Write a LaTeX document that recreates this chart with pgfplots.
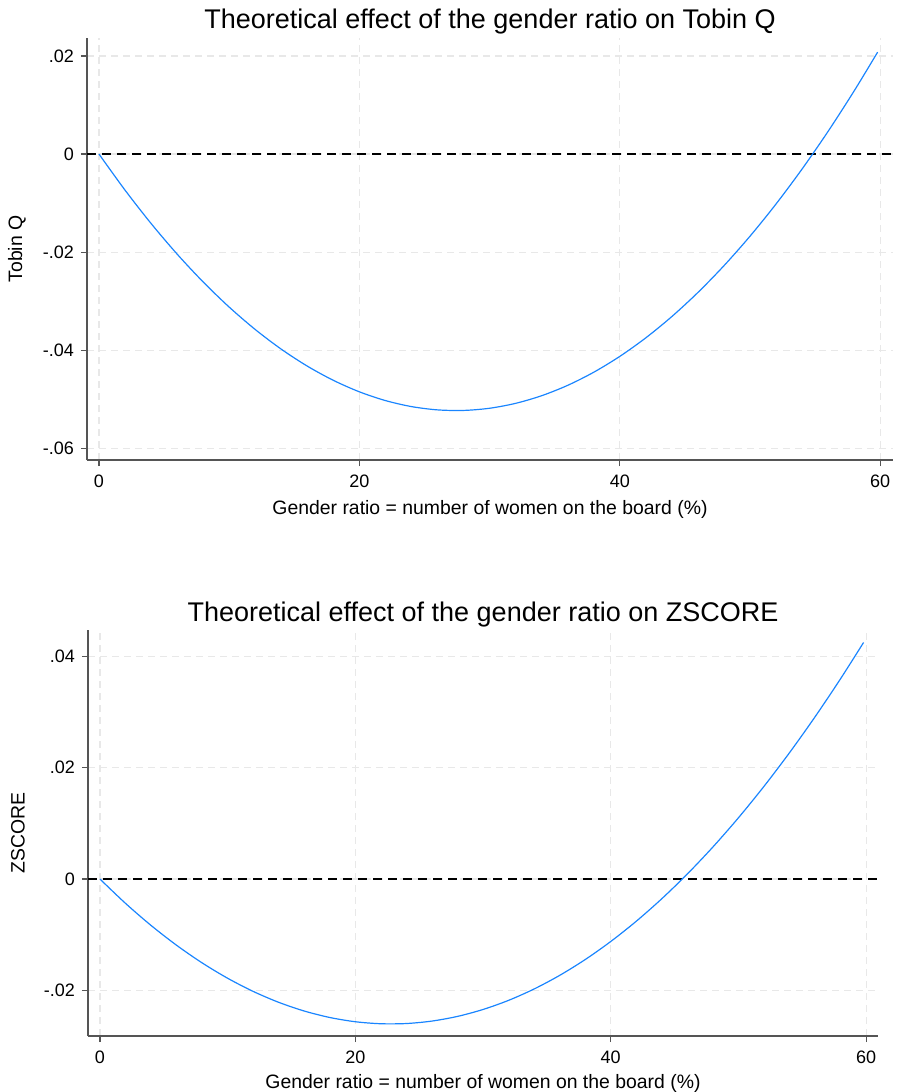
\documentclass[border=0pt]{standalone}
\usepackage{fontspec}
\setmainfont{Liberation Sans}
\usepackage{pgfplots}
\pgfplotsset{compat=1.18}

\definecolor{curve}{RGB}{26,133,255}
\definecolor{gridc}{RGB}{232,232,232}
\definecolor{axc}{RGB}{85,85,85}

% shared look of both panels
\pgfplotsset{stata/.style={
  scale only axis,
  axis lines*=left,
  axis line style={axc, line width=0.6pt},
  tick style={axc, line width=0.6pt},
  tick align=outside,
  major tick length=3pt,
  xtick={0,20,40,60},
  scaled y ticks=false,
  grid=major,
  major grid style={gridc, line width=0.6pt, dash pattern=on 3.5pt off 2.5pt},
  tick label style={font=\fontsize{9}{10}\selectfont},
  xticklabel style={yshift=-1pt},
  /pgf/number format/assume math mode=true,
  label style={font=\fontsize{9.7}{11}\selectfont},
  title style={font=\fontsize{13.5}{15}\selectfont, at={(0.5,1)}, anchor=base},
  xlabel style={at={(0.5,0)}, anchor=base},
  ylabel style={at={(0,0.5)}, anchor=center, yshift=35pt},
  clip=false,
}}

\begin{document}
\begin{tikzpicture}
\useasboundingbox (-43.5pt,-316pt) rectangle (405.5pt,230pt);

% top panel: Tobin Q
\begin{axis}[stata,
  at={(0,0)}, anchor=south west,
  width=403pt, height=211pt,
  xmin=-0.92, xmax=60.98,
  ymin=-0.0624, ymax=0.02367,
  ytick={-0.06,-0.04,-0.02,0,0.02},
  yticklabels={-.06,-.04,-.02,0,.02},
  title={Theoretical effect of the gender ratio on Tobin Q},
  title style={yshift=-1.3pt},
  xlabel={Gender ratio = number of women on the board (\%)},
  xlabel style={yshift=-27pt},
  ylabel={Tobin Q},
]
\addplot[black, line width=0.6pt, dash pattern=on 4.5pt off 3pt] coordinates {(-0.92,0) (60.98,0)};
\addplot[curve, line width=0.6pt, smooth] coordinates {
(0,0) (2,-0.007357) (4,-0.014157) (6,-0.020400) (8,-0.026086) (10,-0.031214)
(12,-0.035785) (14,-0.039799) (16,-0.043255) (18,-0.046154) (20,-0.048496)
(22,-0.050281) (24,-0.051508) (26,-0.052178) (28,-0.052291) (30,-0.051846)
(32,-0.050844) (34,-0.049285) (36,-0.047169) (38,-0.044495) (40,-0.041264)
(42,-0.037476) (44,-0.033130) (46,-0.028227) (48,-0.022767) (50,-0.016750)
(52,-0.010175) (54,-0.003043) (56,0.004646) (58,0.012892) (59.8,0.020788)
};
\end{axis}

% bottom panel: ZSCORE
\begin{axis}[stata,
  at={(0.5pt,-288pt)}, anchor=south west,
  width=395pt, height=203pt,
  xmin=-0.94, xmax=60.93,
  ymin=-0.02816, ymax=0.0447,
  ytick={-0.02,0,0.02,0.04},
  yticklabels={-.02,0,.02,.04},
  title={Theoretical effect of the gender ratio on ZSCORE},
  title style={yshift=-1.5pt},
  xlabel={Gender ratio = number of women on the board (\%)},
  xlabel style={yshift=-26pt},
  ylabel={ZSCORE},
]
\addplot[black, line width=0.6pt, dash pattern=on 4.5pt off 3pt] coordinates {(-0.94,0) (60.93,0)};
\addplot[curve, line width=0.6pt, smooth] coordinates {
(0,0) (2,-0.00436) (4,-0.00832) (6,-0.01188) (8,-0.01504) (10,-0.0178)
(12,-0.02016) (14,-0.02212) (16,-0.02368) (18,-0.02484) (20,-0.0256)
(22,-0.02596) (24,-0.02592) (26,-0.02548) (28,-0.02464) (30,-0.0234)
(32,-0.02176) (34,-0.01972) (36,-0.01728) (38,-0.01444) (40,-0.0112)
(42,-0.00756) (44,-0.00352) (46,0.00092) (48,0.00576) (50,0.011)
(52,0.01664) (54,0.02268) (56,0.02912) (58,0.03596) (59.8,0.042458)
};
\end{axis}
\end{tikzpicture}
\end{document}
